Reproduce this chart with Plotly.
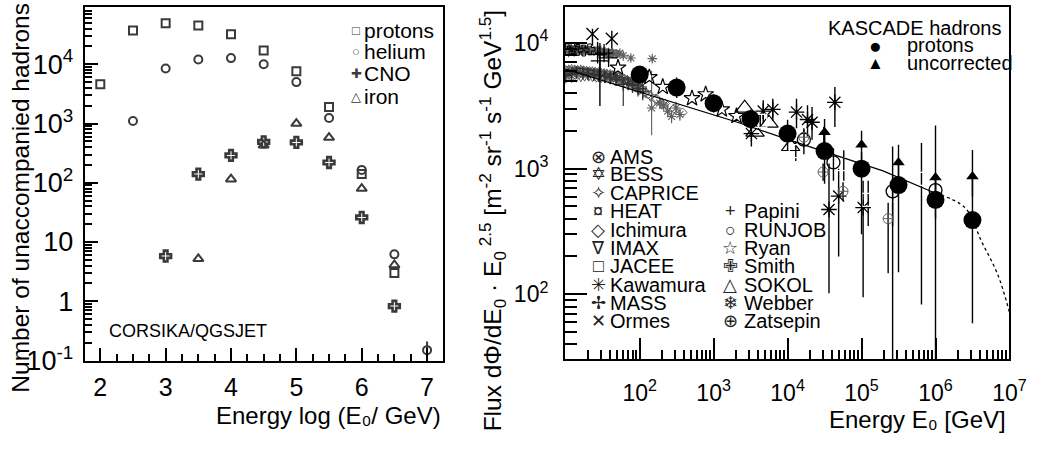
import plotly.graph_objects as go

W, H = 1055, 450
FONT = "Liberation Sans, Arial, DejaVu Sans, sans-serif"
GRAY = "#5e5e5e"
DARK = "#3a3a3a"

# ---------------- Left panel: CORSIKA/QGSJET counts ----------------
protons_x = [2.0, 2.5, 3.0, 3.5, 4.0, 4.5, 5.0, 5.5, 6.0, 6.5]
protons_n = [4600, 37000, 49000, 45000, 32000, 17000, 7600, 1900, 140, 3.0]
helium_x = [2.5, 3.0, 3.5, 4.0, 4.5, 5.0, 5.5, 6.0, 6.5, 7.0]
helium_n = [1100, 8500, 12000, 12700, 10000, 5000, 1240, 165, 6.2, 0.15]
helium_err = [0, 0, 0, 0, 0, 0, 0, 0, 0, 0.06]
cno_x = [3.0, 3.5, 4.0, 4.5, 5.0, 5.5, 6.0, 6.5]
cno_n = [5.8, 140, 290, 490, 480, 220, 26, 0.83]
iron_x = [3.5, 4.0, 4.5, 5.0, 5.5, 6.0, 6.5]
iron_n = [5.2, 115, 430, 1000, 580, 80, 4.1]

left_xticks = [2, 3, 4, 5, 6, 7]
left_yticks = [0.1, 1, 10, 100, 1000, 10000]
left_yticktext = ["10<sup>-1</sup>", "1", "10", "10<sup>2</sup>", "10<sup>3</sup>", "10<sup>4</sup>"]

# ---------------- Right panel: proton flux compilation ----------------
ams_E = [10, 11.2, 12.6, 14.1, 15.8, 17.8, 20, 22.4, 25, 28, 31.6, 35.5, 40, 45, 50, 56, 63, 71, 80, 90, 100]
ams_F = [5600, 5650, 5700, 5750, 5750, 5700, 5700, 5650, 5600, 5550, 5500, 5400, 5350, 5250, 5200,
         5100, 5000, 4900, 4750, 4600, 4450]
bess_E = [10, 11, 12, 13.2, 14.5, 16, 17.5, 19.2, 21, 23, 25, 27.5, 30, 33, 36, 40, 43, 48, 52, 57,
          62, 68, 75, 82, 90, 100, 110]
bess_F = [6100, 6150, 6200, 6150, 6100, 6150, 6050, 6000, 5950, 5950, 5900, 5850, 5800, 5750, 5700,
          5650, 5550, 5500, 5400, 5300, 5200, 5100, 4950, 4800, 4650, 4500, 4300]
caprice_E = [10, 12, 14, 16, 18, 20.5, 23, 26, 30, 34, 40, 46, 55, 64, 75, 87, 100, 120, 140, 165, 200]
caprice_F = [5300, 5350, 5400, 5450, 5500, 5500, 5450, 5400, 5350, 5300, 5200, 5100, 5000, 4850,
             4700, 4500, 4300, 4050, 3800, 3550, 3300]
heat_E = [10, 11.5, 13, 15, 17, 19.5, 22.5, 26, 30, 35, 40, 46]
heat_F = [8700, 8900, 8800, 9000, 8700, 8800, 8600, 8700, 8500, 8400, 8300, 8200]
ichimura_E = [130, 170, 220, 290, 380]
ichimura_F = [3900, 3600, 3300, 3000, 2800]
imax_E = [10.5, 12, 14, 16, 19, 22, 26, 30, 36, 42, 50, 58, 68, 80, 95, 110]
imax_F = [5900, 6000, 6100, 6050, 5950, 5900, 5800, 5700, 5550, 5450, 5300, 5150, 5000, 4800, 4500, 4200]
imax_lo = [5500, 5600, 5700, 5600, 5500, 5450, 5350, 5250, 5100, 5000, 4850, 4700, 4550, 4300, 4000, 3600]
imax_hi = [6300, 6400, 6500, 6500, 6400, 6350, 6250, 6150, 6000, 5900, 5750, 5600, 5450, 5300, 5000, 4800]
jacee_E = [4270, 12900, 30900, 57500, 123000, 263000, 646000]
jacee_F = [2400, 1380, 1780, 1085, 565, 615, 830]
jacee_lo = [2100, 1150, 1400, 800, 350, 25, 83]
jacee_hi = [2700, 1650, 2150, 1400, 800, 1500, 1600]
kawamura_E = [3240, 4680, 6310, 13200, 18600, 21400, 43600, 36300, 49000, 105000]
kawamura_F = [1900, 2870, 2960, 2820, 2460, 2340, 3370, 473, 605, 490]
kawamura_lo = [1500, 2300, 2400, 2100, 1800, 1700, 2140, 102, 200, 95]
kawamura_hi = [2300, 3500, 3600, 3600, 3200, 3100, 4470, 1100, 1000, 800]
mass_E = [10, 12, 14, 17, 20, 24, 28, 34, 40, 48, 60, 70, 80, 95, 110]
mass_F = [5500, 5650, 5800, 5750, 5700, 5600, 5500, 5400, 5300, 5100, 4700, 4750, 4600, 4350, 4100]
mass_lo = [5000, 5100, 5250, 5200, 5150, 5050, 4950, 4850, 4750, 4550, 3150, 4200, 4000, 3750, 3500]
mass_hi = [6000, 6200, 6350, 6300, 6250, 6150, 6050, 5950, 5850, 5650, 5300, 5300, 5200, 4950, 4700]
ormes_E = [23, 42]
ormes_F = [11800, 10800]
ormes_lo = [9500, 9000]
ormes_hi = [13000, 12500]
papini_E = [27, 29, 33, 38]
papini_F = [8100, 7200, 8300, 7600]
papini_lo = [7500, 3150, 7600, 7000]
papini_hi = [10200, 10000, 9000, 8300]
runjob_E = [16600, 41700, 263000, 1000000]
runjob_F = [1700, 1120, 660, 675]
runjob_lo = [1300, 800, 350, 400]
runjob_hi = [2100, 1450, 900, 900]
ryan_E = [51, 135, 205, 510, 780, 1290, 2040]
ryan_F = [6360, 5330, 4470, 3630, 3900, 2960, 2620]
smith_E = [10.5, 12.5, 14.5, 17.5, 21]
smith_F = [8900, 9100, 8800, 8700, 8900]
sokol_E = [2630, 3630, 5600, 11000]
sokol_F = [3030, 1950, 2300, 1500]
webber_E = [11, 13, 15, 17, 19, 22, 24, 27, 30, 34, 38, 43, 48, 54, 60, 76, 148,
            145, 186, 210, 240, 270, 310, 350]
webber_F = [8400, 8500, 8700, 8600, 8800, 8700, 8600, 8500, 8700, 8500, 8400, 8300, 8200, 8300,
            7900, 7600, 7500, 3040, 3330, 3200, 2870, 2600, 3040, 2700]
webber_lo = [8000, 8100, 8300, 8200, 8400, 8300, 8200, 8100, 8300, 8100, 8000, 7900, 7800, 7900,
             7500, 7200, 7100, 1840, 3000, 2900, 2550, 2300, 2700, 2400]
webber_hi = [8800, 8900, 9100, 9000, 9200, 9100, 9000, 8900, 9100, 8900, 8800, 8700, 8600, 8700,
             8300, 8000, 7900, 6000, 3650, 3500, 3200, 2900, 3400, 3000]
zatsepin_E = [16600, 30200, 56200, 229000]
zatsepin_F = [1780, 940, 660, 400]
zatsepin_lo = [1500, 800, 550, 147]
zatsepin_hi = [2050, 1100, 780, 535]

kascade_E = [100, 316, 1000, 3160, 10000, 31600, 100000, 316000, 1000000, 3160000]
kascade_F = [5600, 4420, 3320, 2480, 1900, 1380, 1000, 740, 565, 390]
kascade_lo = [4900, 3650, 2800, 2050, 1400, 760, 300, 150, 20, 59]
kascade_hi = [6400, 5300, 3900, 2950, 2450, 1950, 1350, 1100, 850, 865]
uncorr_E = [31600, 100000, 316000, 1000000, 3160000]
uncorr_F = [1950, 1550, 1120, 850, 865]
uncorr_lo = [1500, 1150, 800, 600, 600]
uncorr_hi = [2480, 2000, 1550, 2200, 1410]

fit_E = [10, 186, 2150, 12300, 195000, 1000000]
fit_F = [6200, 3630, 2330, 1640, 960, 637]
extrap_E = [1000000, 2500000, 4200000, 6900000, 10000000]
extrap_F = [637, 490, 263, 145, 72]

right_xticks = [1e2, 1e3, 1e4, 1e5, 1e6, 1e7]
right_xticktext = ["10<sup>2</sup>", "10<sup>3</sup>", "10<sup>4</sup>", "10<sup>5</sup>", "10<sup>6</sup>", "10<sup>7</sup>"]
right_yticks = [100, 1000, 10000]
right_yticktext = ["10<sup>2</sup>", "10<sup>3</sup>", "10<sup>4</sup>"]

fig = go.Figure()


def err(v, lo, hi, color="black", thickness=1.4):
    return dict(type="data", symmetric=False,
                array=[h - x for x, h in zip(v, hi)],
                arrayminus=[x - l for x, l in zip(v, lo)],
                width=0, thickness=thickness, color=color)


def pts(x, y, symbol, size, color, lw=1.2, xa="x", ya="y", error=None, fill=None):
    m = dict(symbol=symbol, size=size, color=fill if fill else color,
             line=dict(color=color, width=lw))
    t = go.Scatter(x=x, y=y, mode="markers", marker=m, xaxis=xa, yaxis=ya,
                   showlegend=False, hoverinfo="skip", cliponaxis=True)
    if error is not None:
        t.error_y = error
    fig.add_trace(t)


# left panel traces
pts(protons_x, protons_n, "square-open", 8, DARK, 2)
pts(helium_x, helium_n, "circle-open", 8, DARK, 2,
    error=dict(type="data", array=helium_err, width=0, thickness=2, color=DARK))
pts(cno_x, cno_n, "cross-open", 9, DARK, 2.6)
pts(iron_x, iron_n, "triangle-up-open", 9, DARK, 2)

# right panel traces
R = dict(xa="x2", ya="y2")
pts(ams_E, ams_F, "circle-x-open", 7, GRAY, 1, **R)
pts(bess_E, bess_F, "hexagram-open", 7, GRAY, 1, **R)
pts(caprice_E, caprice_F, "star-diamond-open", 8, GRAY, 1, **R)
pts(imax_E, imax_F, "triangle-down-open", 7, "#333333", 1,
    error=err(imax_F, imax_lo, imax_hi, "#444444", 1), **R)
pts(mass_E, mass_F, "cross-thin-open", 9, "#333333", 1.5,
    error=err(mass_F, mass_lo, mass_hi, "#333333", 1.2), **R)
pts(heat_E, heat_F, "square-x-open", 7, "#444444", 1, **R)
pts(webber_E, webber_F, "asterisk-open", 8, GRAY, 1.1,
    error=err(webber_F, webber_lo, webber_hi, GRAY, 1.1), **R)
pts(smith_E, smith_F, "cross-open", 9, "black", 1, **R)
pts(papini_E, papini_F, "cross-thin-open", 13, "black", 1.3, error=err(papini_F, papini_lo, papini_hi), **R)
pts(ormes_E, ormes_F, "x-thin-open", 12, "black", 1.3, error=err(ormes_F, ormes_lo, ormes_hi), **R)
pts(ichimura_E, ichimura_F, "diamond-open", 7, GRAY, 1, **R)
pts(ryan_E, ryan_F, "star-open", 12, "black", 1.2, **R)
pts(sokol_E, sokol_F, "triangle-up-open", 16, "black", 1.2, **R)
pts(kawamura_E, kawamura_F, "asterisk-open", 13, "black", 1.3, error=err(kawamura_F, kawamura_lo, kawamura_hi), **R)
pts(jacee_E, jacee_F, "square-open", 13, "black", 1.3, error=err(jacee_F, jacee_lo, jacee_hi), fill="white", **R)
pts(runjob_E, runjob_F, "circle-open", 13, "black", 1.3, error=err(runjob_F, runjob_lo, runjob_hi), **R)
pts(zatsepin_E, zatsepin_F, "circle-cross-open", 10, GRAY, 1, error=err(zatsepin_F, zatsepin_lo, zatsepin_hi), **R)

fig.add_trace(go.Scatter(x=fit_E, y=fit_F, mode="lines", line=dict(color="black", width=1.2),
                         xaxis="x2", yaxis="y2", showlegend=False, hoverinfo="skip"))
fig.add_trace(go.Scatter(x=extrap_E, y=extrap_F, mode="lines",
                         line=dict(color="black", width=1.3, dash="dot", shape="spline"),
                         xaxis="x2", yaxis="y2", showlegend=False, hoverinfo="skip"))

pts(uncorr_E, uncorr_F, "triangle-up", 11, "black", 0, error=err(uncorr_F, uncorr_lo, uncorr_hi), **R)
pts(kascade_E, kascade_F, "circle", 18, "black", 0, error=err(kascade_F, kascade_lo, kascade_hi), **R)

# ---------------- axes ----------------
def px(x):
    return x / W


def py(y):
    return 1 - y / H


axis_common = dict(showgrid=False, zeroline=False, showline=True, linecolor="black",
                   mirror=True, ticks="inside", tickcolor="black", color="black")

fig.update_layout(
    width=W, height=H, margin=dict(l=0, r=0, t=0, b=0),
    paper_bgcolor="white", plot_bgcolor="white",
    font=dict(family=FONT, color="black"),
    showlegend=False,
    xaxis=dict(axis_common, domain=[px(86), px(450)], range=[1.76, 7.24], anchor="y",
               tickvals=left_xticks, ticklen=13, tickwidth=1.8, linewidth=2,
               tickfont=dict(size=25), ticklabelstandoff=3,
               minor=dict(ticks="inside", ticklen=7, tickwidth=1.8, dtick=0.25, tick0=2,
                          tickcolor="black", showgrid=False)),
    yaxis=dict(axis_common, type="log", domain=[py(373), py(7)], range=[-1, 4.97], anchor="x",
               tickvals=left_yticks, ticktext=left_yticktext, ticklen=13, tickwidth=1.8,
               linewidth=2, tickfont=dict(size=27), ticklabelstandoff=4,
               minor=dict(ticks="inside", ticklen=7, tickwidth=1.8, tickcolor="black",
                          tickmode="array", showgrid=False,
                          tickvals=[m * 10 ** k for k in range(-1, 5) for m in range(2, 10)])),
    xaxis2=dict(axis_common, type="log", domain=[px(574), px(1026)], range=[0.987, 7.0],
                anchor="y2", tickvals=right_xticks, ticktext=right_xticktext, ticklen=22,
                tickwidth=1.5, linewidth=1.5, tickfont=dict(size=23), ticklabelstandoff=12,
                minor=dict(ticks="inside", ticklen=10, tickwidth=1.5, tickcolor="black",
                           tickmode="array", showgrid=False,
                           tickvals=[m * 10 ** k for k in range(1, 7) for m in range(2, 10)])),
    yaxis2=dict(axis_common, type="log", domain=[py(371.7), py(7)], range=[1.483, 4.288],
                anchor="x2", tickvals=right_yticks, ticktext=right_yticktext, ticklen=22,
                tickwidth=1.5, linewidth=1.5, tickfont=dict(size=23), ticklabelstandoff=10,
                minor=dict(ticks="inside", ticklen=12, tickwidth=1.5, tickcolor="black",
                           tickmode="array", showgrid=False,
                           tickvals=[m * 10 ** k for k in range(1, 5) for m in range(2, 10)])),
)

# ---------------- text ----------------
anns = []


def ann(text, x, y, size, xanchor="left", yanchor="middle", color="black", angle=0):
    anns.append(dict(text=text, x=px(x), y=py(y), xref="paper", yref="paper",
                     xanchor=xanchor, yanchor=yanchor, showarrow=False,
                     textangle=angle, font=dict(size=size, color=color, family=FONT)))


# left panel titles and legend
ann("Energy log (E₀/ GeV)", 450, 430, 24, xanchor="right")
ann("Number of unaccompanied hadrons", 21, 1, 24.5, xanchor="center", yanchor="top", angle=-90)
ann("CORSIKA/QGSJET", 109, 342, 18)
left_leg = [("□", "protons", 32), ("○", "helium", 53), ("✚", "CNO", 76), ("△", "iron", 100)]
for g, t, yy in left_leg:
    ann(g, 362, yy, 13, xanchor="center", color=DARK)
    ann(t, 368, yy, 21)

# right panel titles
ann("Energy E₀ [GeV]", 1025, 434, 24, xanchor="right")
ann("Flux dΦ/dE<sub>0</sub> · E<sub>0</sub><sup> 2.5</sup> [m<sup>-2</sup> sr<sup>-1</sup> s<sup>-1</sup> GeV<sup>1.5</sup>]",
    500, 228, 24.5, xanchor="center", yanchor="middle", angle=-90)

# KASCADE legend
ann("KASCADE hadrons", 1019, 29, 20, xanchor="right")
ann("●", 890, 47, 21, xanchor="center")
ann("protons", 920, 47, 20)
ann("▲", 890, 66, 17, xanchor="center")
ann("uncorrected", 920, 65, 20)

# experiments legend
col1 = [("⊗", "AMS"), ("✡", "BESS"), ("✧", "CAPRICE"), ("¤", "HEAT"), ("◇", "Ichimura"),
        ("∇", "IMAX"), ("□", "JACEE"), ("✳", "Kawamura"), ("✢", "MASS"), ("✕", "Ormes")]
col2 = [("+", "Papini"), ("○", "RUNJOB"), ("☆", "Ryan"), ("✙", "Smith"), ("△", "SOKOL"),
        ("❄", "Webber"), ("⊕", "Zatsepin")]
row_y = [162, 180.5, 199.5, 218.5, 237.5, 256.5, 275.5, 294.5, 313.5, 332.5]
for (g, t), yy in zip(col1, row_y):
    ann(g, 608, yy, 18, xanchor="center", color="#222222")
    ann(t, 618, yy, 20)
for (g, t), yy in zip(col2, row_y[3:]):
    ann(g, 742, yy, 18, xanchor="center", color="#222222")
    ann(t, 754, yy, 20)

fig.update_layout(annotations=anns)
fig.write_html("out.html")
